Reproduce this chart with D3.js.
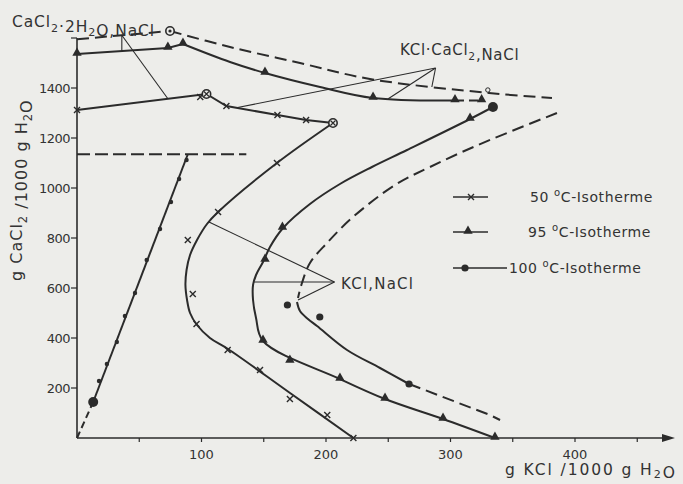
<!DOCTYPE html>
<html>
<head>
<meta charset="utf-8">
<script src="https://cdn.jsdelivr.net/npm/d3@7"></script>
<style>
  body { margin: 0; background: #ededea; }
  svg { display: block; }
  text { font-family: "DejaVu Sans", sans-serif; fill: #333; }
</style>
</head>
<body>
<div id="wrapper"></div>
<script>
// tick values
const xTickValues = [100, 200, 300, 400];
const xMinorTicks = [50, 150, 250, 350, 450];
const yTickValues = [200, 400, 600, 800, 1000, 1200, 1400];

// NaCl line (left) and CaCl2.2H2O boundary
const naclDashed = [[0, 0], [13, 144]];
const naclSolid = [[13, 144], [89, 1135]];
const naclDots = [[17.7, 228], [24, 296], [32, 384], [38.5, 488], [46.6, 580], [56, 712], [66.7, 836], [75.5, 944], [82, 1036], [88, 1112]];
const hydrateLine = [[0, 1135], [136, 1135]];

// 50 °C isotherm
const iso50Upper = [[0, 1312], [104, 1376], [120, 1328], [161, 1292], [184, 1272], [205.6, 1260]];
const iso50Lower = [[205.6, 1260], [160.6, 1100], [113.3, 904], [104.4, 856], [96.4, 792], [90.8, 732], [88, 672], [87.1, 612], [88.4, 552], [90.8, 500], [96.4, 452], [106.8, 400], [121.3, 356], [171.1, 180], [222, 0]];
const iso50Marks = [[0, 1312], [99, 1364], [120, 1328], [161, 1292], [184, 1272], [160.6, 1100], [113.3, 904], [89, 792], [93, 576], [96, 456], [121, 352], [147, 272], [171, 156], [201, 92], [222, 0]];

// 95 °C isotherm
const iso95UpperA = [[0, 1536], [73, 1560], [85.1, 1576]];
const iso95UpperB = [[85.1, 1576], [122.9, 1504], [151, 1460], [195.2, 1404], [237.8, 1360], [303.6, 1350]];
const iso95UpperC = [[303.6, 1350], [325, 1350]];
const iso95Lower = [[334.1, 1324], [315.7, 1276], [265.1, 1152], [236.9, 1084], [211.2, 1016], [187.1, 936], [165.5, 840], [155, 764], [149.4, 704], [143.8, 652], [141.4, 612], [141.4, 552], [143.8, 480], [149.4, 388], [211.2, 236], [247.4, 156], [294, 76], [335.7, 0]];
const iso95Marks = [[0, 1536], [73, 1560], [85.1, 1576], [151, 1460], [237.8, 1360], [303.6, 1350], [325, 1350], [315.7, 1276], [165, 840], [151, 712], [149.4, 388], [171, 308], [211.2, 236], [247.4, 156], [294, 76], [335.7, 0]];

// 100 °C isotherm
const iso100UpperA = [[0, 1595], [74.7, 1628]];
const iso100UpperB = [[74.7, 1628], [122.9, 1564], [179.1, 1500], [235.3, 1436], [330.9, 1380], [381.5, 1360]];
const iso100Right = [[385.5, 1300], [322.1, 1172], [283.5, 1084], [255.4, 1012], [221.7, 884], [200.8, 780], [187.1, 700], [180.7, 620], [177.5, 560]];
const iso100LowerSolid = [[176.7, 544], [179.1, 508], [185.5, 476], [192.8, 448], [216.9, 352], [243.4, 280], [266.7, 216]];
const iso100LowerDashed = [[266.7, 216], [331.7, 92], [339.8, 72]];
const iso100Dots = [[266.7, 216], [169, 532], [195, 484]];
const iso100BigDots = [[13, 144], [334.1, 1324]];

// special points
const dotCircles = [[74.7, 1628]];
const crossCircles = [[104, 1376], [205.6, 1260]];
const openSmall = [[330, 1392]];

// tie lines to the labels
const tieA = [[[36, 1611], [36, 1548]], [[36, 1611], [73, 1357]]];
const tieB = [[[288, 1480], [129, 1322]], [[288, 1480], [250, 1357]], [[288, 1480], [285, 1404]]];
const tieC = [[[206.8, 624], [106, 864]], [[206.8, 624], [141.4, 624]], [[206.8, 624], [177.5, 552]]];

const width = 683, height = 484;
const ink = "#2b2b2b";

const svg = d3.select("#wrapper").append("svg")
  .attr("width", width)
  .attr("height", height);

const x = d3.scaleLinear().domain([0, 400]).range([77, 575]);
const y = d3.scaleLinear().domain([0, 1400]).range([438, 88]);

const smooth = d3.line().x(d => x(d[0])).y(d => y(d[1])).curve(d3.curveCatmullRom.alpha(0.5));
const straight = d3.line().x(d => x(d[0])).y(d => y(d[1]));

function draw(pts, gen, dash, w) {
  svg.append("path")
    .attr("d", gen(pts))
    .attr("fill", "none")
    .attr("stroke", ink)
    .attr("stroke-width", w || 2)
    .attr("stroke-dasharray", dash || null);
}

// axes
svg.append("line").attr("x1", x(0)).attr("x2", 664).attr("y1", y(0)).attr("y2", y(0))
  .attr("stroke", ink).attr("stroke-width", 1.6);
svg.append("path").attr("d", `M662,${y(0) - 4}L675,${y(0)}L662,${y(0) + 4}Z`).attr("fill", ink);
svg.append("line").attr("x1", x(0)).attr("x2", x(0)).attr("y1", y(0)).attr("y2", y(1600))
  .attr("stroke", ink).attr("stroke-width", 1.6);

svg.selectAll("line.xtick").data(xTickValues.concat(xMinorTicks)).enter().append("line")
  .attr("class", "xtick")
  .attr("x1", d => x(d)).attr("x2", d => x(d))
  .attr("y1", y(0)).attr("y2", y(0) + 4)
  .attr("stroke", ink).attr("stroke-width", 1.2);
svg.selectAll("text.xtick").data(xTickValues).enter().append("text")
  .attr("class", "xtick")
  .attr("x", d => x(d)).attr("y", y(0) + 21)
  .attr("text-anchor", "middle")
  .style("font-size", "13px")
  .text(d => d);

svg.selectAll("line.ytick").data(yTickValues.concat([1600])).enter().append("line")
  .attr("class", "ytick")
  .attr("x1", x(0) - 6).attr("x2", x(0))
  .attr("y1", d => y(d)).attr("y2", d => y(d))
  .attr("stroke", ink).attr("stroke-width", 1.2);
svg.selectAll("text.ytick").data(yTickValues).enter().append("text")
  .attr("class", "ytick")
  .attr("x", x(0) - 7).attr("y", d => y(d) + 5)
  .attr("text-anchor", "end")
  .style("font-size", "13px")
  .style("letter-spacing", "-0.5px")
  .text(d => d);

// text with subscripts
function sub(t, parts, size, drop) {
  const d = size * (drop || 0.3);
  parts.forEach(p => {
    if (p[1]) {
      t.append("tspan").attr("dy", d).style("font-size", (size * 0.72) + "px").text(p[0]);
      t.append("tspan").attr("dy", -d).text("");
    } else {
      t.append("tspan").text(p[0]);
    }
  });
}

const yTitle = svg.append("text")
  .attr("transform", "translate(22,281) rotate(-90)")
  .style("font-size", "16px")
  .style("letter-spacing", "1px");
sub(yTitle, [["g CaCl"], ["2", true], [" /1000 g H"], ["2", true], ["O"]], 16);

const xTitle = svg.append("text")
  .attr("x", 505).attr("y", 475)
  .style("font-size", "15.5px")
  .style("letter-spacing", "1.9px");
sub(xTitle, [["g KCl /1000 g H"], ["2", true], ["O"]], 15.5, 0.2);

// curves
draw(naclDashed, straight, "7,4");
draw(naclSolid, straight);
draw(hydrateLine, straight, "13,5");

draw(iso50Upper, straight);
draw(iso50Lower, smooth);

draw(iso95UpperA, straight);
draw(iso95UpperB, smooth);
draw(iso95UpperC, straight, "9,5");
draw(iso95Lower, smooth);

draw(iso100UpperA, straight, "12,6");
draw(iso100UpperB, smooth, "12,6");
draw(iso100Right, smooth, "12,6");
draw(iso100LowerSolid, smooth);
draw(iso100LowerDashed, straight, "12,6");

// tie lines
tieA.concat(tieB, tieC).forEach(seg => draw(seg, straight, null, 1.1));

// markers
svg.selectAll("path.cross").data(iso50Marks).enter().append("path")
  .attr("class", "cross")
  .attr("transform", d => `translate(${x(d[0])},${y(d[1])})`)
  .attr("d", "M-3,-3L3,3M-3,3L3,-3")
  .attr("stroke", ink).attr("stroke-width", 1.4);

svg.selectAll("path.tri").data(iso95Marks).enter().append("path")
  .attr("class", "tri")
  .attr("transform", d => `translate(${x(d[0])},${y(d[1]) - 1})`)
  .attr("d", d3.symbol(d3.symbolTriangle).size(38))
  .attr("fill", ink);

svg.selectAll("circle.ndot").data(naclDots).enter().append("circle")
  .attr("class", "ndot")
  .attr("cx", d => x(d[0])).attr("cy", d => y(d[1])).attr("r", 2.2)
  .attr("fill", ink);

svg.selectAll("circle.dot").data(iso100Dots).enter().append("circle")
  .attr("class", "dot")
  .attr("cx", d => x(d[0])).attr("cy", d => y(d[1])).attr("r", 3.6)
  .attr("fill", ink);
svg.selectAll("circle.big").data(iso100BigDots).enter().append("circle")
  .attr("class", "big")
  .attr("cx", d => x(d[0])).attr("cy", d => y(d[1])).attr("r", 5)
  .attr("fill", ink);

dotCircles.concat(crossCircles).forEach(d => {
  svg.append("circle").attr("cx", x(d[0])).attr("cy", y(d[1])).attr("r", 4.2)
    .attr("fill", "#ededea").attr("stroke", ink).attr("stroke-width", 1.6);
});
dotCircles.forEach(d => {
  svg.append("circle").attr("cx", x(d[0])).attr("cy", y(d[1])).attr("r", 1.6).attr("fill", ink);
});
crossCircles.forEach(d => {
  svg.append("path").attr("transform", `translate(${x(d[0])},${y(d[1])})`)
    .attr("d", "M-2.5,-2.5L2.5,2.5M-2.5,2.5L2.5,-2.5")
    .attr("stroke", ink).attr("stroke-width", 1.2);
});
openSmall.forEach(d => {
  svg.append("circle").attr("cx", x(d[0])).attr("cy", y(d[1])).attr("r", 2.2)
    .attr("fill", "#ededea").attr("stroke", ink).attr("stroke-width", 1);
});

// labels
const labA = svg.append("text").attr("x", 12).attr("y", 27).style("font-size", "15.5px").style("letter-spacing", "0.9px");
sub(labA, [["CaCl"], ["2", true], ["·2H"], ["2", true], ["O,NaCl"]], 15.5);
const labB = svg.append("text").attr("x", 400).attr("y", 55).style("font-size", "15px").style("letter-spacing", "0.7px");
sub(labB, [["KCl·CaCl"], ["2", true], [",NaCl"]], 15);
svg.append("text").attr("x", 341).attr("y", 289).style("font-size", "15px").style("letter-spacing", "1.2px").text("KCl,NaCl");

// legend
const legend = [
  { label: "50", y: 197, x2: 488, text: 530, mark: "cross", mx: 471 },
  { label: "95", y: 232, x2: 488, text: 528, mark: "tri", mx: 468 },
  { label: "100", y: 268, x2: 507, text: 509, mark: "dot", mx: 465 }
];
legend.forEach(l => {
  svg.append("line").attr("x1", 453).attr("x2", l.x2).attr("y1", l.y).attr("y2", l.y)
    .attr("stroke", ink).attr("stroke-width", 1.4);
  if (l.mark === "cross") {
    svg.append("path").attr("transform", `translate(${l.mx},${l.y})`)
      .attr("d", "M-3,-3L3,3M-3,3L3,-3").attr("stroke", ink).attr("stroke-width", 1.4);
  } else if (l.mark === "tri") {
    svg.append("path").attr("transform", `translate(${l.mx},${l.y - 1})`)
      .attr("d", d3.symbol(d3.symbolTriangle).size(38)).attr("fill", ink);
  } else {
    svg.append("circle").attr("cx", l.mx).attr("cy", l.y).attr("r", 3.6).attr("fill", ink);
  }
  const t = svg.append("text").attr("x", l.text).attr("y", l.y + 5)
    .style("font-size", "14px").style("letter-spacing", "0.6px");
  t.append("tspan").text(l.label + " ");
  t.append("tspan").attr("dy", -6).style("font-size", "10px").text("o");
  t.append("tspan").attr("dy", 6).text("C-Isotherme");
});
</script>
</body>
</html>
